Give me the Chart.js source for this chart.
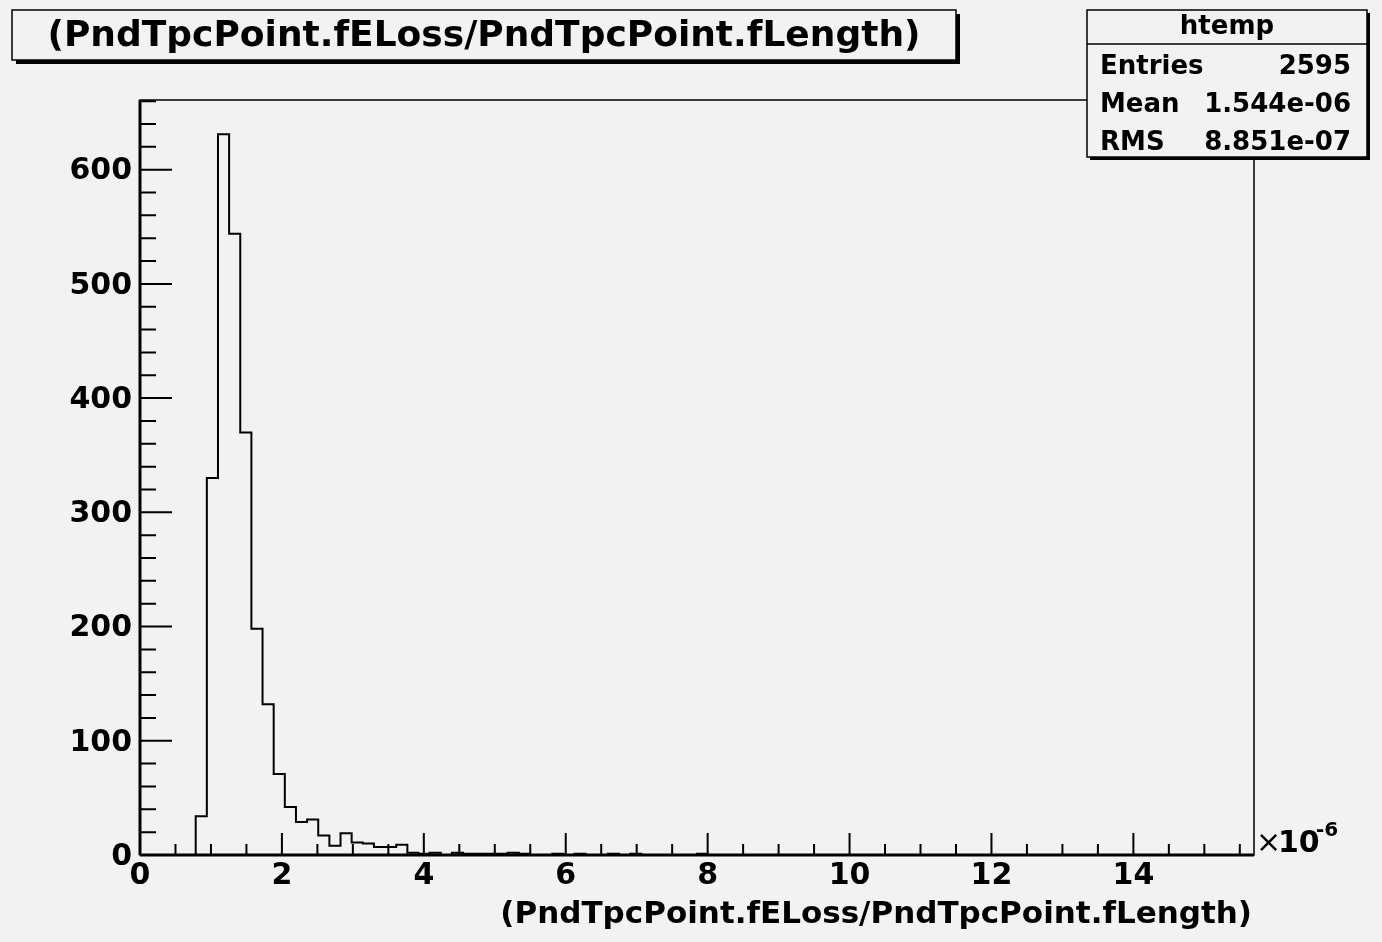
<!DOCTYPE html>
<html>
<head>
<meta charset="utf-8">
<script src="https://cdn.jsdelivr.net/npm/chart.js@4"></script>
<style>
  html, body { margin: 0; padding: 0; background: #f2f2f2; }
  #wrap { width: 1382px; height: 942px; }
</style>
</head>
<body>
<div id="wrap"><canvas id="hist"></canvas></div>
<script>
// histogram: 100 bins from 0 to 15.7 (x1e-6)
const binWidth = 0.157;
const counts = [
  0, 0, 0, 0, 0, 34, 330, 631, 544, 370,
  198, 132, 71, 42, 29, 31, 17, 8, 19, 11,
  10, 7, 7, 9, 2, 1, 2, 0, 2, 1,
  1, 1, 1, 2, 1, 0, 0, 1, 0, 1,
  0, 0, 1, 0, 1, 0, 0, 0, 0, 0,
  1, 0, 0, 0, 0, 0, 0, 0, 0, 0,
  0, 0, 0, 0, 0, 0, 0, 0, 0, 0,
  0, 0, 0, 0, 0, 0, 0, 0, 0, 0,
  0, 0, 0, 0, 0, 0, 0, 0, 0, 0,
  0, 0, 0, 0, 0, 0, 0, 0, 0, 0
];
const xTicks = [0, 2, 4, 6, 8, 10, 12, 14];
const yTicks = [0, 100, 200, 300, 400, 500, 600];
const titleText = '(PndTpcPoint.fELoss/PndTpcPoint.fLength)';
const statsLabels = ['Entries', 'Mean', 'RMS'];
const statsValues = ['2595', '1.544e-06', '8.851e-07'];

const xMax = binWidth * counts.length;
// each point sits at the left edge of its bin; 'before' holds the value to the next edge
const points = counts.map((c, i) => ({ x: i * binWidth, y: c }));
points.push({ x: xMax, y: 0 });

const FONT = '"DejaVu Sans", "Liberation Sans", sans-serif';
const BOLD = 'bold 30px ' + FONT;

const rootDecor = {
  id: 'rootDecor',
  beforeDraw(chart) {
    const c = chart.ctx;
    c.save();
    c.fillStyle = '#f2f2f2';
    c.fillRect(0, 0, chart.width, chart.height);
    c.restore();
  },
  afterDraw(chart) {
    const c = chart.ctx;
    const a = chart.chartArea;
    const xs = chart.scales.x, ys = chart.scales.y;
    c.save();
    c.strokeStyle = '#000';
    c.fillStyle = '#000';

    // frame
    c.lineWidth = 1.5;
    c.strokeRect(a.left, a.top, a.right - a.left, a.bottom - a.top);
    c.lineWidth = 3;
    c.beginPath();
    c.moveTo(a.left, a.bottom); c.lineTo(a.right, a.bottom);
    c.moveTo(a.left, a.bottom); c.lineTo(a.left, a.top);
    c.stroke();

    // y ticks
    c.lineWidth = 2;
    c.beginPath();
    for (let v = 0; v <= ys.max; v += 20) {
      const y = ys.getPixelForValue(v);
      const len = v % 100 === 0 ? 32 : 16;
      c.moveTo(a.left, y); c.lineTo(a.left + len, y);
    }
    // x ticks
    for (let v = 0; v <= xs.max + 1e-9; v += 0.5) {
      const x = xs.getPixelForValue(v);
      const len = Math.abs(v % 2) < 1e-9 ? 22 : 11;
      c.moveTo(x, a.bottom); c.lineTo(x, a.bottom - len);
    }
    c.stroke();

    c.font = BOLD;
    c.textAlign = 'right';
    c.textBaseline = 'middle';
    yTicks.forEach(v => c.fillText(String(v), a.left - 8, ys.getPixelForValue(v) + 2));
    c.textAlign = 'center';
    c.textBaseline = 'top';
    xTicks.forEach(v => c.fillText(String(v), xs.getPixelForValue(v), a.bottom + 6));

    // x10^-6
    c.textAlign = 'left';
    c.textBaseline = 'alphabetic';
    c.font = '30px ' + FONT;
    c.fillText('\u00d7', a.right + 2, 852);
    c.font = BOLD;
    c.fillText('10', a.right + 24, 852);
    c.font = 'bold 20px ' + FONT;
    c.fillText('-6', a.right + 62, 836);

    // x axis title
    c.font = 'bold 31px ' + FONT;
    c.textAlign = 'right';
    c.fillText(titleText, a.right - 2, 923);

    // title box with shadow
    c.fillRect(16, 14, 944, 50);
    c.fillStyle = '#f2f2f2';
    c.fillRect(12, 10, 944, 50);
    c.lineWidth = 1.5;
    c.strokeRect(12, 10, 944, 50);
    c.fillStyle = '#000';
    c.font = 'bold 36px ' + FONT;
    c.textAlign = 'center';
    c.textBaseline = 'middle';
    c.fillText(titleText, 484, 37);

    // stats box
    c.fillRect(1090, 13, 280, 147);
    c.fillStyle = '#f2f2f2';
    c.fillRect(1087, 10, 280, 147);
    c.strokeRect(1087, 10, 280, 147);
    c.beginPath();
    c.moveTo(1087, 44); c.lineTo(1367, 44);
    c.stroke();
    c.fillStyle = '#000';
    c.font = 'bold 26px ' + FONT;
    c.fillText('htemp', 1227, 27);
    statsLabels.forEach((lab, i) => {
      const y = 67 + i * 38;
      c.textAlign = 'left';
      c.fillText(lab, 1100, y);
      c.textAlign = 'right';
      c.fillText(statsValues[i], 1351, y);
    });
    c.restore();
  }
};

new Chart(document.getElementById('hist'), {
  type: 'line',
  data: {
    datasets: [{
      data: points,
      stepped: 'before',
      borderColor: '#000',
      borderWidth: 2,
      pointRadius: 0,
      fill: false
    }]
  },
  options: {
    responsive: true,
    maintainAspectRatio: false,
    animation: false,
    layout: { padding: { left: 140, right: 128, top: 100, bottom: 87 } },
    plugins: { legend: { display: false }, tooltip: { enabled: false } },
    scales: {
      x: { type: 'linear', min: 0, max: xMax, display: false },
      y: { min: 0, max: 661, display: false }
    }
  },
  plugins: [rootDecor]
});
</script>
</body>
</html>
